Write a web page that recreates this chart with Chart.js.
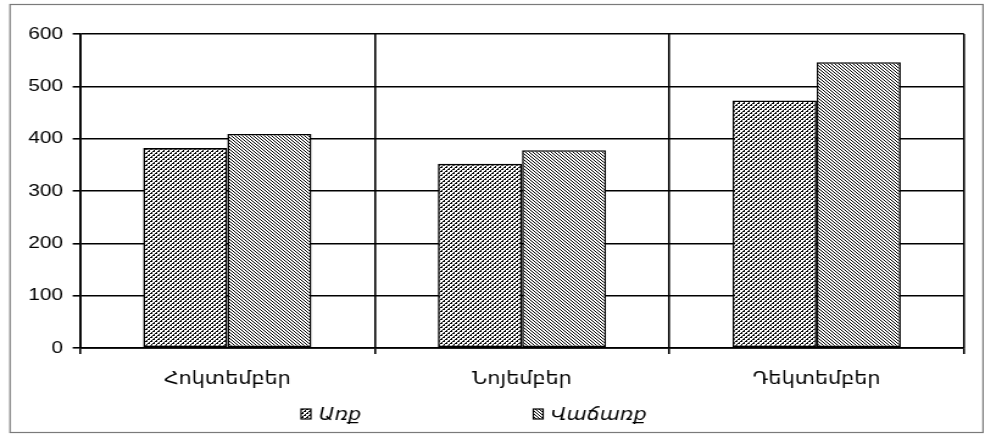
<!DOCTYPE html>
<html>
<head>
<meta charset="utf-8">
<script src="https://cdn.jsdelivr.net/npm/chart.js@4/dist/chart.umd.min.js"></script>
<style>
  html, body { margin: 0; padding: 0; background: #fff; overflow: hidden; }
  #stage { width: 985px; height: 437px; position: relative; overflow: hidden; }
  /* the chart is laid out on a narrower canvas and widened to the page */
  #wrap { position: absolute; left: 0; top: 0; width: 808px; height: 437px;
          transform: scaleX(1.219); transform-origin: 0 0; }
</style>
</head>
<body>
<div id="stage"><div id="wrap"><canvas id="c"></canvas></div></div>
<script>
const categories = ['Հոկտեմբեր', 'Նոյեմբեր', 'Դեկտեմբեր'];
const seriesNames = ['Առք', 'Վաճառք'];
const purchases = [382, 352, 473];
const sales = [409, 378, 546];
const yTicks = [0, 100, 200, 300, 400, 500, 600];

const FONT = "'Liberation Sans', Arial, 'DejaVu Sans', sans-serif";

// fine hatch fills for the two series
function hatch(kind) {
  const n = kind === 'up' ? 4 : 3;
  const t = document.createElement('canvas');
  t.width = n; t.height = n;
  const g = t.getContext('2d');
  g.fillStyle = '#fff';
  g.fillRect(0, 0, n, n);
  g.fillStyle = '#000';
  for (let y = 0; y < n; y++) {
    for (let x = 0; x < n; x++) {
      let dark;
      if (kind === 'up') {
        const d = (x + y) % 4;
        dark = d === 0 || (d === 1 && x % 2 === 0);
      } else {
        dark = ((x - y) % 3 + 3) % 3 === 0;
      }
      if (dark) g.fillRect(x, y, 1, 1);
    }
  }
  const tmp = document.createElement('canvas').getContext('2d');
  return tmp.createPattern(t, 'repeat');
}
const fills = [hatch('up'), hatch('down')];

// outer frame and bottom legend
const framePlugin = {
  id: 'frame',
  afterDraw(chart) {
    const ctx = chart.ctx;
    ctx.save();
    ctx.strokeStyle = '#7a7a7a';
    ctx.lineWidth = 1.2;
    ctx.strokeRect(8.2, 4.5, 798.2, 428);
    // legend
    const xs = [247, 437.5];
    const cy = 414;
    ctx.font = "italic 17px " + FONT;
    ctx.textBaseline = 'middle';
    ctx.textAlign = 'left';
    chart.data.datasets.forEach((ds, i) => {
      ctx.fillStyle = ds.backgroundColor;
      ctx.fillRect(xs[i], cy - 5, 8, 10);
      ctx.strokeStyle = '#000';
      ctx.lineWidth = 1.2;
      ctx.strokeRect(xs[i], cy - 5, 8, 10);
      ctx.fillStyle = '#000';
      ctx.fillText(ds.label, xs[i] + 14.5, cy + 1);
    });
    ctx.restore();
  }
};

new Chart(document.getElementById('c'), {
  type: 'bar',
  data: {
    labels: categories,
    datasets: [
      { label: seriesNames[0], data: purchases, backgroundColor: fills[0],
        borderColor: '#000', borderWidth: 1.6, borderSkipped: false },
      { label: seriesNames[1], data: sales, backgroundColor: fills[1],
        borderColor: '#000', borderWidth: 1.6, borderSkipped: false }
    ]
  },
  options: {
    responsive: true,
    maintainAspectRatio: false,
    animation: false,
    layout: { padding: { left: 0, right: 17.2, top: 34, bottom: 39 } },
    datasets: { bar: { categoryPercentage: 0.571, barPercentage: 1.0 } },
    plugins: { legend: { display: false }, tooltip: { enabled: false } },
    scales: {
      x: {
        offset: true,
        grid: { display: true, offset: true, color: '#000', lineWidth: 1.6,
                drawTicks: true, tickLength: 6, tickColor: '#000' },
        border: { display: true, color: '#000', width: 1.8 },
        ticks: { color: '#000', font: { family: FONT, size: 17 }, padding: 15,
                 maxRotation: 0 },
        afterFit(scale) { scale.height = 50; }
      },
      y: {
        min: 0, max: 600,
        afterBuildTicks(scale) { scale.ticks = yTicks.map(v => ({ value: v })); },
        grid: { color: '#000', lineWidth: 1.6, drawTicks: true, tickLength: 6,
                tickColor: '#000' },
        border: { display: true, color: '#000', width: 1.8 },
        ticks: { color: '#000', font: { family: FONT, size: 17 }, padding: 8 },
        afterFit(scale) { scale.width = 65.6; }
      }
    }
  },
  plugins: [framePlugin]
});
</script>
</body>
</html>
